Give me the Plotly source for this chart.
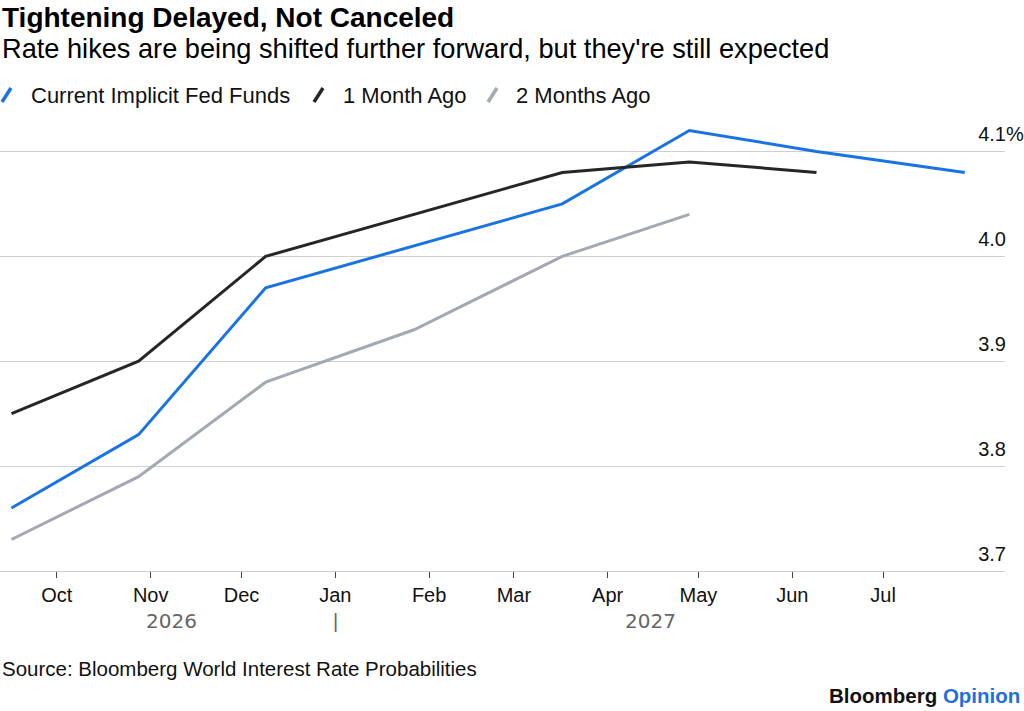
import plotly.graph_objects as go

# ---------------- data ----------------
meeting_dates = ["2026-09-16", "2026-10-28", "2026-12-09", "2027-01-27",
                 "2027-03-17", "2027-04-28", "2027-06-09", "2027-07-28"]
current_implicit = [3.76, 3.83, 3.97, 4.01, 4.05, 4.12, 4.10, 4.08]
one_month_ago = [3.85, 3.90, 4.00, 4.04, 4.08, 4.09, 4.08]
two_months_ago = [3.73, 3.79, 3.88, 3.93, 4.00, 4.04]

series_names = ["Current Implicit Fed Funds", "1 Month Ago", "2 Months Ago"]
series_colors = ["#1a73e3", "#262626", "#a3a9b2"]

x_tick_dates = ["2026-10-01", "2026-11-01", "2026-12-01", "2027-01-01", "2027-02-01",
                "2027-03-01", "2027-04-01", "2027-05-01", "2027-06-01", "2027-07-01"]
x_tick_labels = ["Oct", "Nov", "Dec", "Jan", "Feb", "Mar", "Apr", "May", "Jun", "Jul"]
y_ticks = [3.7, 3.8, 3.9, 4.0, 4.1]
y_ticktext = ["3.7", "3.8", "3.9", "4.0", "4.1"]
year_labels = ["2026", "2027"]
year_label_dates = ["2026-11-08", "2027-04-15"]
year_sep_date = "2027-01-01"

title = "Tightening Delayed, Not Canceled"
subtitle = "Rate hikes are being shifted further forward, but they're still expected"
source = "Source: Bloomberg World Interest Rate Probabilities"

# ---------------- layout geometry ----------------
W, H = 1024, 711
ML, MR, MT, MB = 0, 19, 120, 140
PW = W - ML - MR
PH = H - MT - MB
FONT = "Liberation Sans, Arial, sans-serif"


def px(x):
    return (x - ML) / PW


def py(y):
    return (H - MB - y) / PH


fig = go.Figure()
all_values = [current_implicit, one_month_ago, two_months_ago]
for name, vals, col in zip(series_names, all_values, series_colors):
    fig.add_trace(go.Scatter(
        x=meeting_dates[:len(vals)], y=vals, mode="lines", name=name,
        line=dict(color=col, width=3), showlegend=False, hoverinfo="x+y"))

annotations = []
shapes = []

# title / subtitle
annotations.append(dict(text="<b>" + title + "</b>", x=px(0), y=py(17), xref="paper", yref="paper",
                        xanchor="left", yanchor="middle", showarrow=False,
                        font=dict(family=FONT, size=28, color="#000")))
annotations.append(dict(text=subtitle, x=px(0), y=py(49), xref="paper", yref="paper",
                        xanchor="left", yanchor="middle", showarrow=False,
                        font=dict(family=FONT, size=27.2, color="#000")))

# legend (manual, slanted strokes)
legend_icon_x = [2, 314, 488]
legend_text_x = [29, 341, 514]
for name, col, ix, tx in zip(series_names, series_colors, legend_icon_x, legend_text_x):
    shapes.append(dict(type="line", xref="paper", yref="paper",
                       x0=px(ix), y0=py(102), x1=px(ix + 9), y1=py(88),
                       line=dict(color=col, width=3.5)))
    annotations.append(dict(text=name, x=px(tx), y=py(95), xref="paper", yref="paper",
                            xanchor="left", yanchor="middle", showarrow=False,
                            font=dict(family=FONT, size=22, color="#111")))

# year labels under the x axis
for lab, d in zip(year_labels, year_label_dates):
    annotations.append(dict(text=lab, x=d, xref="x", y=py(621), yref="paper",
                            xanchor="center", yanchor="middle", showarrow=False,
                            font=dict(family="DejaVu Sans, sans-serif", size=20, color="#666")))
annotations.append(dict(text="|", x=year_sep_date, xref="x", y=py(621), yref="paper",
                        xanchor="center", yanchor="middle", showarrow=False,
                        font=dict(family=FONT, size=20, color="#666")))

# percent sign after top y label
annotations.append(dict(text="%", x=1, xref="paper", y=y_ticks[-1], yref="y", yshift=17,
                        xanchor="left", yanchor="middle", showarrow=False, xshift=-1,
                        font=dict(family=FONT, size=20, color="#111")))

# source and brand
annotations.append(dict(text=source, x=px(0), y=py(668), xref="paper", yref="paper",
                        xanchor="left", yanchor="middle", showarrow=False,
                        font=dict(family=FONT, size=20.5, color="#111")))
annotations.append(dict(text="<b>Bloomberg <span style='color:#1f6fdc'>Opinion</span></b>",
                        x=px(1022), y=py(695), xref="paper", yref="paper",
                        xanchor="right", yanchor="middle", showarrow=False,
                        font=dict(family=FONT, size=20.5, color="#111")))

fig.update_layout(
    width=W, height=H,
    margin=dict(l=ML, r=MR, t=MT, b=MB, pad=0),
    paper_bgcolor="white", plot_bgcolor="white",
    font=dict(family=FONT, color="#111"),
    annotations=annotations, shapes=shapes,
    showlegend=False, hovermode="closest",
)

fig.update_xaxes(
    type="date",
    range=["2026-09-12 05:00", "2027-08-10 07:00"],
    tickvals=x_tick_dates, ticktext=x_tick_labels,
    ticks="outside", ticklen=6, tickwidth=1, tickcolor="#444",
    showgrid=False, zeroline=False,
    showline=True, linecolor="#cccccc", linewidth=1,
    tickfont=dict(family=FONT, size=20, color="#111"),
)

fig.update_yaxes(
    range=[3.7, 4.13],
    tickvals=y_ticks, ticktext=y_ticktext,
    side="right", ticklabelposition="inside", ticklabelshift=-17,
    ticklabelstandoff=-4,
    ticks="", showgrid=True, gridcolor="#cfcfcf", gridwidth=1,
    zeroline=False, showline=False,
    tickfont=dict(family=FONT, size=20, color="#111"),
)

fig.write_html("out.html", config={"displayModeBar": False},
               post_script="document.body.style.margin='0';document.body.style.overflow='hidden';")
